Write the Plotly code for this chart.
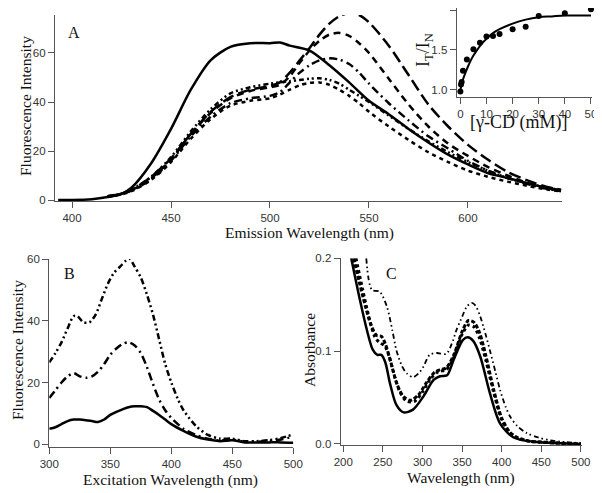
import plotly.graph_objects as go

# reference canvas size; the page body adds an 8px margin, so positions are shifted back by 8px
REF_W, REF_H = 602, 493
OFF = 8
W, H = REF_W, REF_H

# ---------------- Panel A: emission spectra ----------------
a_solid_x = [393, 400, 410, 418, 425, 430, 440, 450, 460, 470, 480, 490, 500, 505, 510, 520, 530, 540, 550, 560, 570, 580, 590, 600, 610, 620, 630, 640, 647]
a_solid_y = [0, 0, 0.3, 1.2, 2.5, 5, 15, 29, 45, 57, 62.5, 64, 64, 64.3, 63, 61, 55, 48, 40.5, 35, 29, 23.5, 18.5, 14.5, 11, 9, 6.8, 5, 4]

a_x = [418, 425, 430, 440, 450, 460, 470, 480, 490, 500, 505, 510, 515, 520, 525, 530, 535, 540, 545, 550, 560, 570, 580, 590, 600, 610, 620, 630, 640, 647]
a_longdash = [1.5, 2.5, 4, 9.5, 17, 27, 36, 42, 45, 46.5, 48, 52, 57, 62, 67.5, 72, 75, 76.3, 75.5, 72.5, 63, 51, 39, 30, 22.5, 16.5, 11.5, 8, 5.3, 4.2]
a_dash = [1.5, 2.6, 4, 9, 16.5, 27, 35.5, 41.5, 44.5, 46, 47, 50.5, 56, 61, 65, 67.5, 68.2, 67, 64, 60, 49.5, 39, 30, 23, 18, 13.5, 10, 7, 4.8, 3.8]
a_dashdot = [1.3, 2.4, 3.8, 8.5, 16, 26, 34, 39.5, 41.5, 42.5, 44, 48, 52, 55, 57, 57.8, 57.3, 55.5, 52, 47.5, 39.5, 32.5, 26, 21, 16, 12, 9, 6.5, 4.6, 3.6]
a_dashdotdot = [1.5, 2.6, 4.2, 9.5, 17.5, 28, 37, 43.5, 46, 47.5, 48, 48.5, 49, 49.5, 49.7, 49, 47.5, 45, 42.5, 40, 34.5, 29, 24, 19.5, 15.5, 12, 9, 6.8, 5, 4]
a_shortdash = [1.3, 2.3, 3.6, 8.2, 15.5, 25, 33, 38.5, 40.5, 41.5, 43, 45, 46.8, 47.8, 48, 47, 45, 42.5, 39.5, 36, 30, 24.5, 19.5, 15.5, 12, 9.5, 7.5, 5.8, 4.3, 3.5]

# inset: ratio vs [gamma-CD]
ins_conc = [0, 0.25, 0.5, 1, 2.5, 5, 7.5, 10, 12.5, 15, 20, 25, 30, 40, 50]
ins_ratio = [0.98, 1.07, 1.10, 1.24, 1.38, 1.51, 1.59, 1.67, 1.675, 1.70, 1.76, 1.79, 1.925, 1.96, 2.01]
fit_conc = [0, 1, 2, 3, 4, 5, 6, 8, 10, 12, 15, 20, 25, 30, 35, 40, 45, 50]
fit_ratio = [1.0, 1.13, 1.22, 1.30, 1.37, 1.43, 1.48, 1.57, 1.64, 1.70, 1.76, 1.83, 1.88, 1.91, 1.92, 1.93, 1.93, 1.93]

# ---------------- Panel B: excitation spectra ----------------
b_top_x = [300, 305, 310, 315, 320, 323, 328, 333, 338, 343, 348, 353, 358, 363, 366, 370, 375, 380, 385, 390, 395, 400, 405, 410, 420, 430, 440, 450, 460, 470, 480, 490, 500]
b_top_y = [26.5, 29.5, 33, 37.5, 41.5, 41.5, 39.5, 39.5, 42, 47, 52, 55.5, 57.5, 59.5, 60, 57.5, 54, 48.5, 42, 34, 26, 20, 15, 11, 6, 3, 1.8, 1.8, 1, 1, 1.3, 2, 3.2]
b_x = [300, 305, 310, 315, 320, 325, 330, 335, 340, 345, 350, 355, 360, 365, 370, 375, 380, 385, 390, 395, 400, 410, 420, 430, 440, 450, 460, 470, 480, 490, 500]
b_mid_y = [15, 17.5, 20, 22, 23, 22, 21.5, 22, 23.5, 26, 29, 31, 32.5, 33, 32, 29.5, 25, 19.5, 14.5, 11, 8.5, 5, 3, 1.8, 1.2, 1.5, 0.8, 0.8, 1, 1.5, 2.5]
b_solid_y = [5, 5.5, 6.5, 7.5, 8, 8, 7.8, 7.5, 7.2, 8, 9.5, 10.5, 11.3, 12, 12.3, 12.3, 12, 10.8, 9.5, 8, 6.5, 4.3, 2.5, 1.5, 1, 1.3, 0.6, 0.6, 0.6, 0.6, 0.5]

# ---------------- Panel C: absorbance ----------------
c_solid_x = [210, 221, 230, 237, 243, 248, 253, 259, 267, 276, 288, 301, 314, 322, 331, 339, 351, 357, 364, 373, 385, 398, 415, 440, 470, 500]
c_solid_y = [0.2, 0.155, 0.122, 0.102, 0.096, 0.096, 0.088, 0.065, 0.042, 0.034, 0.037, 0.051, 0.069, 0.073, 0.074, 0.090, 0.112, 0.115, 0.111, 0.094, 0.055, 0.022, 0.007, 0.0025, 0.001, 0.0]
c_m1_x = [213, 220, 228, 235, 242, 248, 253, 260, 268, 276, 285, 295, 305, 315, 322, 330, 340, 350, 358, 365, 372, 380, 390, 400, 410, 420, 435, 450, 470, 500]
c_m1_y = [0.2, 0.175, 0.148, 0.128, 0.117, 0.116, 0.108, 0.088, 0.064, 0.051, 0.047, 0.053, 0.066, 0.077, 0.08, 0.082, 0.097, 0.121, 0.133, 0.131, 0.12, 0.095, 0.058, 0.028, 0.013, 0.007, 0.003, 0.002, 0.001, 0.0]
c_m2_x = [216, 224, 232, 240, 246, 252, 258, 265, 272, 280, 290, 300, 310, 320, 330, 340, 350, 358, 365, 372, 380, 390, 400, 410, 420, 435, 450, 470, 500]
c_m2_y = [0.2, 0.168, 0.138, 0.115, 0.109, 0.106, 0.094, 0.072, 0.055, 0.046, 0.046, 0.056, 0.07, 0.078, 0.08, 0.094, 0.118, 0.128, 0.126, 0.114, 0.09, 0.055, 0.026, 0.012, 0.006, 0.003, 0.002, 0.001, 0.0]
c_top_x = [229, 236, 246, 255, 262, 267, 274, 280, 288, 295, 301, 309, 318, 330, 337, 343, 350, 356, 362, 367, 373, 380, 385, 392, 398, 405, 411, 420, 432, 446, 461, 480, 500]
c_top_y = [0.2, 0.166, 0.164, 0.148, 0.122, 0.101, 0.084, 0.076, 0.072, 0.076, 0.083, 0.096, 0.098, 0.097, 0.108, 0.123, 0.137, 0.148, 0.152, 0.149, 0.137, 0.117, 0.101, 0.078, 0.058, 0.040, 0.029, 0.019, 0.0115, 0.007, 0.004, 0.002, 0.001]

BLACK = "#000000"
AX = "#555555"
TICKF = dict(family="Arial, Liberation Sans, sans-serif", size=11.5, color="#333333")
SERIF = "Liberation Serif, Times New Roman, serif"

fig = go.Figure()

def line(x, y, xa, ya, dash="solid", width=2.5):
    fig.add_trace(go.Scatter(x=x, y=y, xaxis=xa, yaxis=ya, mode="lines",
                             line=dict(color=BLACK, width=width, dash=dash, shape="spline", smoothing=0.8),
                             showlegend=False, hoverinfo="skip"))

# Panel A
line(a_solid_x, a_solid_y, "x", "y", "solid", 2.5)
line(a_x, a_longdash, "x", "y", "12px,5px", 2.5)
line(a_x, a_dash, "x", "y", "7px,5px", 2.5)
line(a_x, a_dashdot, "x", "y", "8px,4px,2px,4px", 2.5)
line(a_x, a_dashdotdot, "x", "y", "5px,3px,2px,3px,2px,3px", 2.5)
line(a_x, a_shortdash, "x", "y", "4px,4px", 2.5)

# Inset
fig.add_trace(go.Scatter(x=fit_conc, y=fit_ratio, xaxis="x4", yaxis="y4", mode="lines",
                         line=dict(color=BLACK, width=2, shape="spline"), showlegend=False, hoverinfo="skip"))
fig.add_trace(go.Scatter(x=ins_conc, y=ins_ratio, xaxis="x4", yaxis="y4", mode="markers",
                         marker=dict(color=BLACK, size=6, symbol="circle"), cliponaxis=False,
                         showlegend=False, hoverinfo="skip"))

# Panel B
line(b_x, b_solid_y, "x2", "y2", "solid", 2.5)
line(b_x, b_mid_y, "x2", "y2", "8px,4px,2px,4px", 2.5)
line(b_top_x, b_top_y, "x2", "y2", "6px,3px,2px,3px,2px,3px", 2.5)

# Panel C
line(c_solid_x, c_solid_y, "x3", "y3", "solid", 2.5)
line(c_m1_x, c_m1_y, "x3", "y3", "4px,2px", 3)
line(c_m2_x, c_m2_y, "x3", "y3", "3px,3px", 3)
line(c_top_x, c_top_y, "x3", "y3", "5px,3px,1.5px,3px,1.5px,3px", 1.8)

def px(v):
    return (v - OFF) / W

def py(v):
    return 1 - (v - OFF) / H

axcommon = dict(showline=True, linecolor=AX, linewidth=1.2, ticks="outside", ticklen=6,
                tickcolor=AX, tickwidth=1.2, showgrid=False, zeroline=False, tickfont=TICKF,
                automargin=False)

fig.update_layout(
    width=W, height=H, margin=dict(l=0, r=0, t=0, b=0, pad=0, autoexpand=False),
    paper_bgcolor="white", plot_bgcolor="white",
    xaxis=dict(domain=[px(55), px(562)], range=[391.4, 647.5], anchor="y",
               tickvals=[400, 450, 500, 550, 600], **axcommon),
    yaxis=dict(domain=[py(201), py(15)], range=[-0.4, 75.5], anchor="x",
               tickvals=[0, 20, 40, 60], **axcommon),
    xaxis2=dict(domain=[px(49.3), px(293.3)], range=[300, 500], anchor="y2",
                tickvals=[300, 350, 400, 450, 500], **axcommon),
    yaxis2=dict(domain=[py(446.7), py(259)], range=[-0.8, 60], anchor="x2",
                tickvals=[0, 20, 40, 60], **axcommon),
    xaxis3=dict(domain=[px(340.7), px(581.7)], range=[196.7, 501], anchor="y3",
                tickvals=[200, 250, 300, 350, 400, 450, 500], **axcommon),
    yaxis3=dict(domain=[py(445), py(258.3)], range=[-0.0011, 0.2], anchor="x3",
                tickvals=[0.0, 0.1, 0.2], tickformat=".1f", **axcommon),
    xaxis4=dict(domain=[px(456.7), px(592)], range=[-1.4, 50.4], anchor="y4",
                tickvals=[0, 10, 20, 30, 40, 50], **axcommon),
    yaxis4=dict(domain=[py(96.7), py(8.4)], range=[0.916, 2.02], anchor="x4",
                tickvals=[1.0, 1.5, 2.0], tickformat=".1f", **axcommon),
)

def ann(text, x, y, size=15.5, angle=0):
    fig.add_annotation(text=text, x=px(x), y=py(y), xref="paper", yref="paper",
                       showarrow=False, textangle=angle, xanchor="center", yanchor="middle",
                       font=dict(family=SERIF, size=size, color="#111111"))

ann("A", 74, 32, 16)
ann("B", 69, 273, 16)
ann("C", 391, 273, 16)
ann("Emission Wavelength (nm)", 309, 233)
ann("Fluorescence Intensity", 25, 106, angle=-90)
ann("Excitation Wavelength (nm)", 170, 480)
ann("Fluorescence Intensity", 17, 350, angle=-90)
ann("Wavelength (nm)", 461, 478)
ann("Absorbance", 309, 350, angle=-90)
ann("I<sub>T</sub>/I<sub>N</sub>", 424, 50, 18, angle=-90)
ann("[γ-CD (mM)]", 518, 123, 18)

fig.write_html("out.html")
